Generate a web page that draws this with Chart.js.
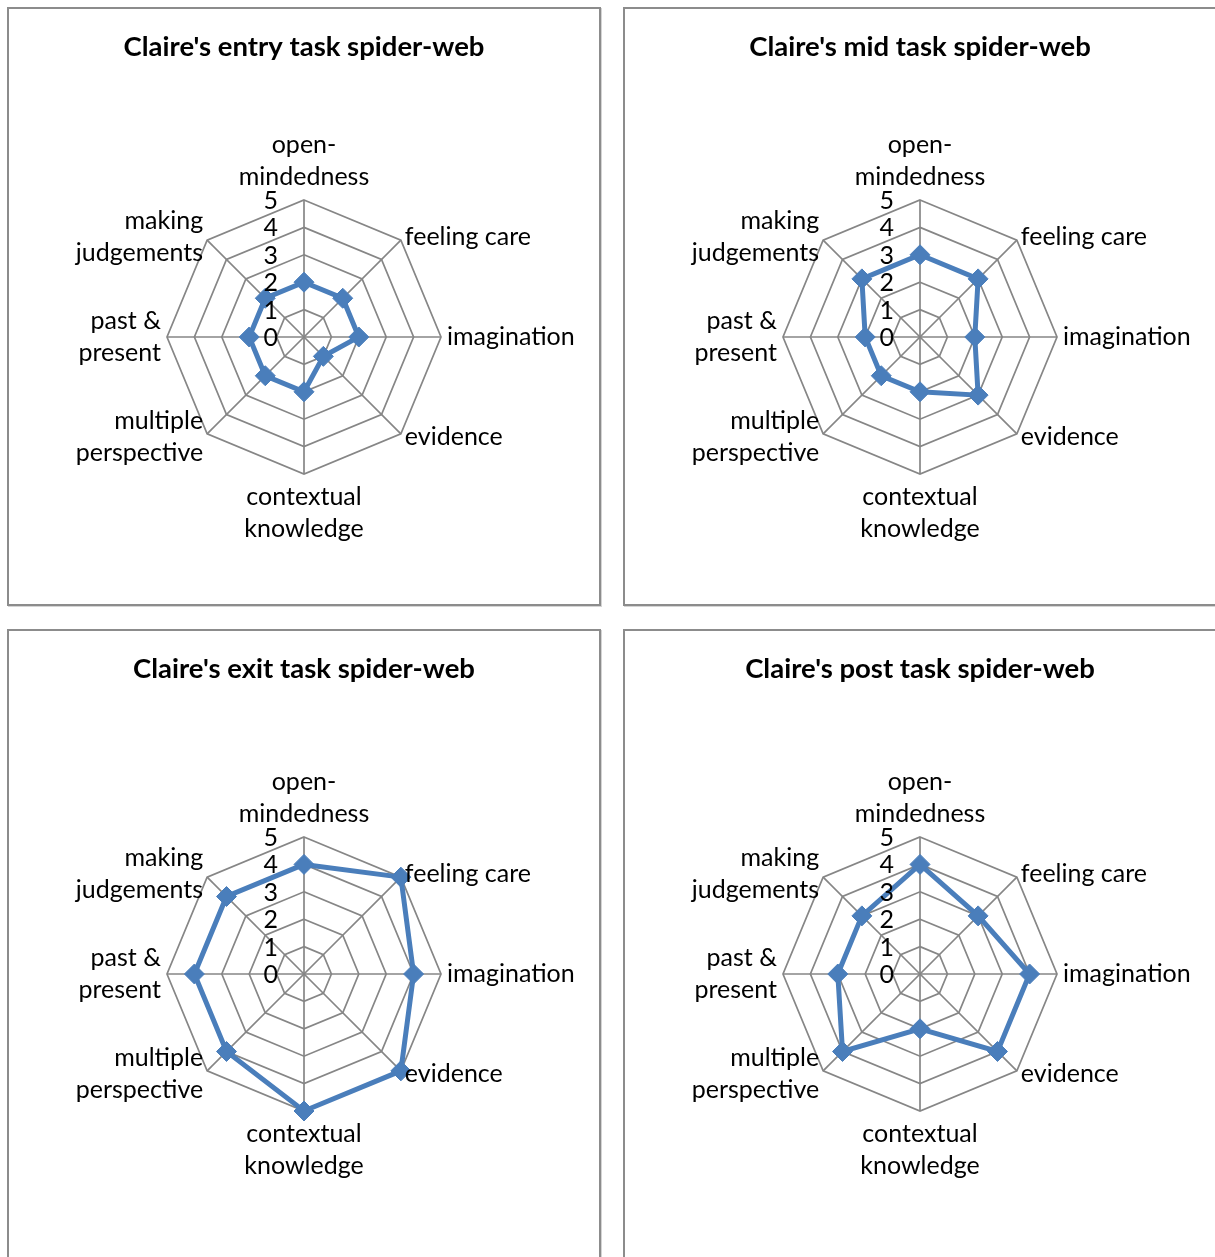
<!DOCTYPE html>
<html>
<head>
<meta charset="utf-8">
<script src="https://cdn.jsdelivr.net/npm/chart.js@4.4.0/dist/chart.umd.min.js"></script>
<style>
  html, body { margin: 0; padding: 0; background: #fff; overflow: hidden; }
  body { width: 1215px; height: 1257px; position: relative; }
  .box {
    position: absolute; box-sizing: border-box;
    border: 2px solid #8c8c8c; background: #fff;
    box-shadow: 1px 1px 0 #d4d4d4;
  }
  .box canvas { position: absolute; left: 0; top: 0; }
</style>
</head>
<body>
<div class="box" style="left:7px;top:7px;width:594px;height:599px"><canvas id="c1" width="590" height="595"></canvas></div>
<div class="box" style="left:623px;top:7px;width:594px;height:599px"><canvas id="c2" width="590" height="595"></canvas></div>
<div class="box" style="left:7px;top:629px;width:594px;height:640px"><canvas id="c3" width="590" height="636"></canvas></div>
<div class="box" style="left:623px;top:629px;width:594px;height:640px"><canvas id="c4" width="590" height="636"></canvas></div>
<script>
// skills on the web (clockwise from top)
const categories = ['open-mindedness', 'feeling care', 'imagination', 'evidence',
  'contextual knowledge', 'multiple perspective', 'past & present', 'making judgements'];
const labelLines = [['open-', 'mindedness'], ['feeling care'], ['imagination'], ['evidence'],
  ['contextual', 'knowledge'], ['multiple', 'perspective'], ['past &', 'present'], ['making', 'judgements']];
const tickValues = [0, 1, 2, 3, 4, 5];

// Claire's scores
const entryScores = [2, 2, 2, 1, 2, 2, 2, 2];
const midScores = [3, 3, 2, 3, 2, 2, 2, 3];
const exitScores = [4, 5, 4, 5, 5, 4, 4, 4];
const postScores = [4, 3, 4, 4, 2, 4, 3, 3];

const FONT = 'Lato, Carlito, "Noto Sans", sans-serif';
const BLUE = '#4a7ebb';
const GRID = '#868686';

// tick labels sit left of the vertical axis, like excel does it
const tickLabels = {
  id: 'tickLabels',
  afterDatasetsDraw(chart) {
    const r = chart.scales.r;
    const ctx = chart.ctx;
    ctx.save();
    ctx.font = '25px ' + FONT;
    ctx.fillStyle = '#000';
    ctx.textAlign = 'right';
    ctx.textBaseline = 'middle';
    tickValues.forEach(v => {
      const d = r.getDistanceFromCenterForValue(v);
      ctx.fillText(String(v), r.xCenter - 26, r.yCenter - d + 1);
    });
    ctx.restore();
  }
};

const pointLabels = {
  id: 'pointLabels2',
  afterDraw(chart) {
    const r = chart.scales.r;
    const ctx = chart.ctx;
    const lh = 32;
    ctx.save();
    ctx.font = '25px ' + FONT;
    ctx.fillStyle = '#000';
    ctx.textBaseline = 'middle';
    labelLines.forEach((lines, i) => {
      const p = r.getPointPosition(i, r.drawingArea);
      const n = lines.length;
      let x = p.x, yMid = p.y;
      if (i === 0) {
        ctx.textAlign = 'center';
        yMid = p.y - 23 - lh * (n - 1) / 2;
      } else if (i === 4) {
        ctx.textAlign = 'center';
        yMid = p.y + 23 + lh * (n - 1) / 2;
      } else if (i < 4) {
        ctx.textAlign = 'left';
        x = p.x + (i === 2 ? 6 : 4);
        if (i !== 2) yMid = p.y + Math.sign(p.y - r.yCenter) * 3.5;
      } else {
        ctx.textAlign = 'right';
        x = p.x - (i === 6 ? 6 : 4);
        if (i !== 6) yMid = p.y + Math.sign(p.y - r.yCenter) * 3.5;
      }
      lines.forEach((t, k) => {
        ctx.fillText(t, x, yMid + (k - (n - 1) / 2) * lh);
      });
    });
    ctx.restore();
  }
};

function makeChart(id, title, scores, plotTop, canvasH) {
  const titleTop = 22;
  const titleLH = 27.5 * 1.2;
  new Chart(document.getElementById(id), {
    type: 'radar',
    data: {
      labels: categories,
      datasets: [{
        data: scores,
        borderColor: BLUE,
        backgroundColor: BLUE,
        borderWidth: 5,
        fill: false,
        pointStyle: 'rectRot',
        pointRadius: 10,
        pointBackgroundColor: BLUE,
        pointBorderColor: BLUE,
        pointBorderWidth: 1
      }]
    },
    options: {
      responsive: false,
      animation: false,
      devicePixelRatio: 1,
      layout: { padding: { top: 0, left: 0, right: 0, bottom: canvasH - plotTop - 274 } },
      plugins: {
        legend: { display: false },
        tooltip: { enabled: false },
        title: {
          display: true,
          text: title,
          color: '#000',
          font: { family: FONT, size: 27.5, weight: 'bold' },
          padding: { top: titleTop, bottom: plotTop - titleTop - titleLH }
        }
      },
      scales: {
        r: {
          min: 0,
          max: 5,
          ticks: { stepSize: 1, display: false },
          grid: { color: GRID, lineWidth: 1.7 },
          angleLines: { color: GRID, lineWidth: 1.7 },
          pointLabels: { display: false }
        }
      }
    },
    plugins: [tickLabels, pointLabels]
  });
}

makeChart('c1', "Claire's entry task spider-web", entryScores, 191, 595);
makeChart('c2', "Claire's mid task spider-web", midScores, 191, 595);
makeChart('c3', "Claire's exit task spider-web", exitScores, 206, 636);
makeChart('c4', "Claire's post task spider-web", postScores, 206, 636);
</script>
</body>
</html>
